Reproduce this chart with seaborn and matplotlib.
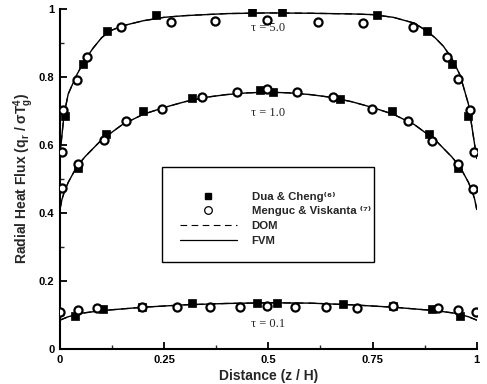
import numpy as np
import pandas as pd
import seaborn as sns
import matplotlib
matplotlib.use("Agg")
import matplotlib.pyplot as plt
from matplotlib.lines import Line2D
from matplotlib.patches import Rectangle

# ---- curves (FVM solid / DOM dashed) ----
x_t5 = [0, 0.005, 0.01, 0.02, 0.04, 0.06, 0.08, 0.1, 0.12, 0.15, 0.2, 0.25, 0.3, 0.4, 0.5,
        0.6, 0.7, 0.75, 0.8, 0.85, 0.88, 0.9, 0.92, 0.94, 0.96, 0.98, 0.99, 0.995, 1.0]
y_t5 = [0.57, 0.63, 0.69, 0.75, 0.805, 0.85, 0.885, 0.915, 0.935, 0.95, 0.965, 0.975, 0.98, 0.986, 0.988,
        0.987, 0.985, 0.983, 0.975, 0.958, 0.935, 0.915, 0.89, 0.855, 0.805, 0.72, 0.64, 0.6, 0.56]

x_t1 = [0, 0.005, 0.01, 0.02, 0.04, 0.06, 0.08, 0.1, 0.15, 0.2, 0.25, 0.3, 0.35, 0.4, 0.45, 0.5,
        0.55, 0.6, 0.65, 0.7, 0.75, 0.8, 0.85, 0.9, 0.92, 0.94, 0.96, 0.98, 0.99, 0.995, 1.0]
y_t1 = [0.41, 0.44, 0.46, 0.49, 0.535, 0.565, 0.59, 0.615, 0.66, 0.69, 0.71, 0.727, 0.74, 0.748, 0.753, 0.755,
        0.753, 0.748, 0.74, 0.727, 0.71, 0.69, 0.66, 0.615, 0.59, 0.565, 0.535, 0.49, 0.46, 0.44, 0.41]

x_t01 = [0, 0.02, 0.05, 0.1, 0.2, 0.3, 0.4, 0.5, 0.6, 0.7, 0.8, 0.9, 0.95, 0.98, 1.0]
y_t01 = [0.085, 0.095, 0.105, 0.113, 0.123, 0.13, 0.134, 0.136, 0.135, 0.13, 0.123, 0.113, 0.105, 0.095, 0.085]

# ---- Dua & Cheng (filled squares) ----
dc_x = [0.012, 0.055, 0.112, 0.23, 0.46, 0.532, 0.76, 0.88, 0.94, 0.98,
        0.044, 0.11, 0.2, 0.318, 0.48, 0.511, 0.673, 0.796, 0.885, 0.955,
        0.036, 0.104, 0.196, 0.316, 0.473, 0.521, 0.678, 0.799, 0.892, 0.959]
dc_y = [0.684, 0.838, 0.935, 0.982, 0.99, 0.99, 0.983, 0.934, 0.838, 0.685,
        0.533, 0.631, 0.699, 0.737, 0.76, 0.757, 0.735, 0.70, 0.631, 0.533,
        0.097, 0.118, 0.124, 0.136, 0.136, 0.136, 0.133, 0.127, 0.118, 0.097]

# ---- Menguc & Viskanta (open circles) ----
mv_x = [0.004, 0.007, 0.041, 0.065, 0.146, 0.266, 0.372, 0.496, 0.619, 0.727, 0.847, 0.928, 0.955, 0.983, 0.993,
        0.004, 0.044, 0.105, 0.159, 0.246, 0.34, 0.426, 0.496, 0.568, 0.654, 0.748, 0.835, 0.892, 0.955, 0.99,
        0.0, 0.043, 0.089, 0.196, 0.28, 0.36, 0.432, 0.497, 0.564, 0.638, 0.712, 0.799, 0.907, 0.955, 0.998]
mv_y = [0.578, 0.702, 0.79, 0.858, 0.947, 0.96, 0.963, 0.966, 0.96, 0.958, 0.946, 0.859, 0.794, 0.702, 0.578,
        0.472, 0.545, 0.614, 0.67, 0.705, 0.742, 0.756, 0.764, 0.757, 0.74, 0.707, 0.67, 0.611, 0.545, 0.469,
        0.109, 0.115, 0.121, 0.124, 0.124, 0.124, 0.124, 0.127, 0.124, 0.124, 0.121, 0.127, 0.121, 0.115, 0.109]

legend_labels = ["Dua & Cheng\u207d\u2076\u207e", "Menguc & Viskanta \u207d\u2077\u207e", "DOM", "FVM"]

tau_labels = ["\u03c4 = 5.0", "\u03c4 = 1.0", "\u03c4 = 0.1"]
tau_label_xy = [(0.5, 0.945), (0.5, 0.695), (0.5, 0.075)]

x_ticks = [0, 0.25, 0.5, 0.75, 1]
x_tick_labels = ["0", "0.25", "0.5", "0.75", "1"]
y_ticks = [0, 0.2, 0.4, 0.6, 0.8, 1]
y_tick_labels = ["0", "0.2", "0.4", "0.6", "0.8", "1"]

sns.set_style("ticks")
plt.rcParams['font.family'] = ['Liberation Sans', 'DejaVu Sans']
plt.rcParams['mathtext.fontset'] = 'custom'
plt.rcParams['mathtext.rm'] = 'Liberation Sans:bold'
plt.rcParams['mathtext.it'] = 'Liberation Sans:bold'
plt.rcParams['mathtext.default'] = 'rm'

fig = plt.figure(figsize=(4.87, 3.84), dpi=100)
ax = fig.add_axes([0.123, 0.091, 0.856, 0.886])

curves = pd.concat([
    pd.DataFrame({"x": x_t5, "y": y_t5, "tau": "5.0"}),
    pd.DataFrame({"x": x_t1, "y": y_t1, "tau": "1.0"}),
    pd.DataFrame({"x": x_t01, "y": y_t01, "tau": "0.1"}),
])
for tau, grp in curves.groupby("tau", sort=False):
    sns.lineplot(data=grp, x="x", y="y", ax=ax, color="black", lw=0.9,
                 linestyle=(0, (6, 4)), sort=False, estimator=None, legend=False)
    sns.lineplot(data=grp, x="x", y="y", ax=ax, color="black", lw=1.0,
                 sort=False, estimator=None, legend=False)

dc = pd.DataFrame({"x": dc_x, "y": dc_y})
mv = pd.DataFrame({"x": mv_x, "y": mv_y})
sns.scatterplot(data=dc, x="x", y="y", ax=ax, marker="s", s=26, color="black",
                edgecolor="black", linewidth=0.5, zorder=4, legend=False)
sns.scatterplot(data=mv, x="x", y="y", ax=ax, marker="o", s=34, facecolor="white",
                edgecolor="black", linewidth=1.6, zorder=5, legend=False)

for lab, (tx, ty) in zip(tau_labels, tau_label_xy):
    ax.text(tx, ty, lab, ha="center", va="center", fontsize=9,
            family=['Liberation Serif', 'DejaVu Serif'])

ax.set_xlim(0, 1)
ax.set_ylim(0, 1)
ax.set_xticks(x_ticks)
ax.set_xticklabels(x_tick_labels, fontweight="bold", fontsize=8)
ax.set_yticks(y_ticks)
ax.set_yticklabels(y_tick_labels, fontweight="bold", fontsize=8)
ax.set_xticks(np.arange(0.125, 1, 0.25), minor=True)
ax.set_yticks(np.arange(0.1, 1, 0.2), minor=True)
ax.tick_params(which="major", direction="in", length=5, width=1.3, pad=4, colors="black")
ax.tick_params(which="minor", direction="in", length=3, width=1.0)
for s in ["top", "right"]:
    ax.spines[s].set_visible(False)
for s in ["left", "bottom"]:
    ax.spines[s].set_linewidth(1.5)
    ax.spines[s].set_color("black")

ax.set_xlabel("Distance (z / H)", fontweight="bold", fontsize=10, labelpad=3)
ax.set_ylabel(r"Radial Heat Flux (q$_{r}$ / $\sigma$T$_{g}^{4}$)", fontweight="bold", fontsize=10, labelpad=2)

# legend frame drawn as a box, entries placed inside it
ax.add_patch(Rectangle((0.245, 0.257), 0.508, 0.277, transform=ax.transAxes,
                       facecolor="white", edgecolor="black", lw=1.0, zorder=6))
handles = [
    Line2D([], [], marker="s", color="black", linestyle="none", markersize=4.5),
    Line2D([], [], marker="o", markerfacecolor="white", markeredgecolor="black",
           markeredgewidth=0.9, linestyle="none", markersize=5.5),
    Line2D([], [], color="black", lw=0.8, linestyle=(0, (6, 4))),
    Line2D([], [], color="black", lw=0.9),
]
leg = ax.legend(handles, legend_labels, loc="upper left", bbox_to_anchor=(0.288, 0.463),
                borderaxespad=0, borderpad=0, frameon=False,
                handlelength=5.0, handletextpad=1.3, labelspacing=0.42,
                handleheight=0.7, prop={"weight": "bold", "size": 8.2})
leg.set_zorder(7)

fig.savefig("out.png", dpi=100)
